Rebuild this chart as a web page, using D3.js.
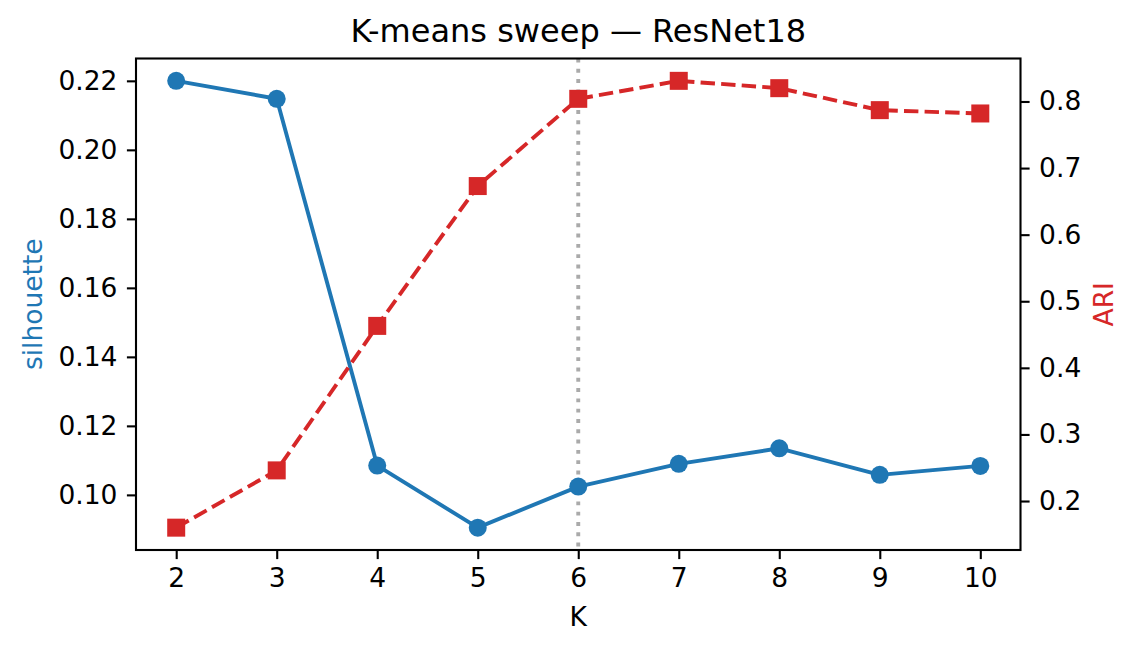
<!DOCTYPE html>
<html><head><meta charset="utf-8">
<script src="https://cdn.jsdelivr.net/npm/d3@7"></script>
<style>body{margin:0;background:#fff}svg{display:block}text{font-family:"DejaVu Sans",sans-serif}</style>
</head><body>
<script>
const ks = [2,3,4,5,6,7,8,9,10];
const silhouette = [0.2200,0.2148,0.1085,0.0905,0.1024,0.1090,0.1135,0.1058,0.1084];
const ari = [0.160,0.246,0.463,0.673,0.804,0.831,0.820,0.787,0.782];
const xTicks = [2,3,4,5,6,7,8,9,10];
const leftTicks = [0.10,0.12,0.14,0.16,0.18,0.20,0.22];
const rightTicks = [0.2,0.3,0.4,0.5,0.6,0.7,0.8];
const bestK = 6;

const W=1138,H=652, L=136, R=1020.5, T=58.5, B=550;
const svg=d3.select("body").append("svg").attr("width",W).attr("height",H);
const pad=(a)=>{const mn=d3.min(a),mx=d3.max(a),d=mx-mn;return [mn-0.05*d,mx+0.05*d];};
const x=d3.scaleLinear().domain([1.6,10.4]).range([L,R]);
const yL=d3.scaleLinear().domain(pad(silhouette)).range([B,T]);
const yR=d3.scaleLinear().domain(pad(ari)).range([B,T]);
const blue="#1f77b4", red="#d62728", fs=26.5;

// vertical dotted line
svg.append("line").attr("x1",x(bestK)).attr("x2",x(bestK)).attr("y1",T).attr("y2",B)
  .attr("stroke","#aaaaaa").attr("stroke-width",3.9).attr("stroke-dasharray","3.9,6.4");

// silhouette
svg.append("path").datum(ks.map((k,i)=>[k,silhouette[i]]))
  .attr("d",d3.line().x(d=>x(d[0])).y(d=>yL(d[1]))).attr("fill","none").attr("stroke",blue).attr("stroke-width",3.9).attr("stroke-linejoin","round");
svg.selectAll("circle.s").data(ks.map((k,i)=>[k,silhouette[i]])).join("circle")
  .attr("cx",d=>x(d[0])).attr("cy",d=>yL(d[1])).attr("r",9).attr("fill",blue);

// ARI
svg.append("path").datum(ks.map((k,i)=>[k,ari[i]]))
  .attr("d",d3.line().x(d=>x(d[0])).y(d=>yR(d[1]))).attr("fill","none").attr("stroke",red).attr("stroke-width",3.9).attr("stroke-dasharray","14.4,6.2");
svg.selectAll("rect.a").data(ks.map((k,i)=>[k,ari[i]])).join("rect")
  .attr("x",d=>x(d[0])-9).attr("y",d=>yR(d[1])-9).attr("width",18).attr("height",18).attr("fill",red);

// frame
svg.append("rect").attr("x",L).attr("y",T).attr("width",R-L).attr("height",B-T).attr("fill","none").attr("stroke","#000").attr("stroke-width",2.1);

function style(g){g.select(".domain").remove();g.selectAll(".tick line").attr("stroke","#000").attr("stroke-width",2.1);
  g.selectAll(".tick text").attr("font-size",fs).attr("fill","#000").attr("font-family","DejaVu Sans");}
svg.append("g").attr("transform",`translate(0,${B})`).call(d3.axisBottom(x).tickValues(xTicks).tickSize(9.1).tickPadding(9.5).tickFormat(d3.format("d"))).call(style);
svg.append("g").attr("transform",`translate(${L},0)`).call(d3.axisLeft(yL).tickValues(leftTicks).tickSize(9.1).tickPadding(9.5).tickFormat(d3.format(".2f"))).call(style);
svg.append("g").attr("transform",`translate(${R},0)`).call(d3.axisRight(yR).tickValues(rightTicks).tickSize(9.1).tickPadding(9.5).tickFormat(d3.format(".1f"))).call(style);

svg.append("text").attr("x",(L+R)/2).attr("y",42).attr("text-anchor","middle").attr("font-size",32).text("K-means sweep — ResNet18");
svg.append("text").attr("x",(L+R)/2).attr("y",626).attr("text-anchor","middle").attr("font-size",fs).text("K");
svg.append("text").attr("transform",`translate(42,${(T+B)/2}) rotate(-90)`).attr("text-anchor","middle").attr("font-size",fs).attr("fill",blue).text("silhouette");
svg.append("text").attr("transform",`translate(1113,${(T+B)/2}) rotate(-90)`).attr("text-anchor","middle").attr("font-size",fs).attr("fill",red).text("ARI");
</script>
</body></html>
